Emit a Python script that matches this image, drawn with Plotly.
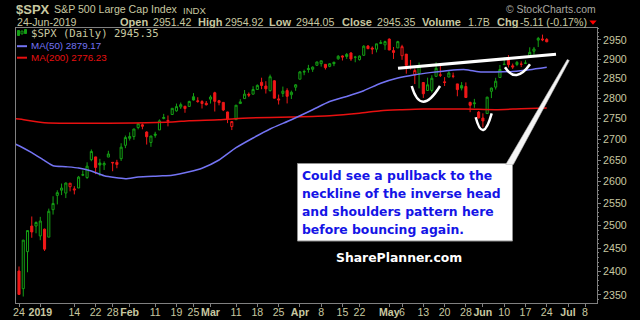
import math
import plotly.graph_objects as go

# ---------------- data ----------------
prior_date = "2018-12-21"
prior_close = 2416.62

dates = [
    "2018-12-24", "2018-12-26", "2018-12-27", "2018-12-28", "2018-12-31",
    "2019-01-02", "2019-01-03", "2019-01-04", "2019-01-07", "2019-01-08", "2019-01-09", "2019-01-10", "2019-01-11",
    "2019-01-14", "2019-01-15", "2019-01-16", "2019-01-17", "2019-01-18",
    "2019-01-22", "2019-01-23", "2019-01-24", "2019-01-25",
    "2019-01-28", "2019-01-29", "2019-01-30", "2019-01-31", "2019-02-01",
    "2019-02-04", "2019-02-05", "2019-02-06", "2019-02-07", "2019-02-08",
    "2019-02-11", "2019-02-12", "2019-02-13", "2019-02-14", "2019-02-15",
    "2019-02-19", "2019-02-20", "2019-02-21", "2019-02-22",
    "2019-02-25", "2019-02-26", "2019-02-27", "2019-02-28", "2019-03-01",
    "2019-03-04", "2019-03-05", "2019-03-06", "2019-03-07", "2019-03-08",
    "2019-03-11", "2019-03-12", "2019-03-13", "2019-03-14", "2019-03-15",
    "2019-03-18", "2019-03-19", "2019-03-20", "2019-03-21", "2019-03-22",
    "2019-03-25", "2019-03-26", "2019-03-27", "2019-03-28", "2019-03-29",
    "2019-04-01", "2019-04-02", "2019-04-03", "2019-04-04", "2019-04-05",
    "2019-04-08", "2019-04-09", "2019-04-10", "2019-04-11", "2019-04-12",
    "2019-04-15", "2019-04-16", "2019-04-17", "2019-04-18",
    "2019-04-22", "2019-04-23", "2019-04-24", "2019-04-25", "2019-04-26",
    "2019-04-29", "2019-04-30", "2019-05-01", "2019-05-02", "2019-05-03",
    "2019-05-06", "2019-05-07", "2019-05-08", "2019-05-09", "2019-05-10",
    "2019-05-13", "2019-05-14", "2019-05-15", "2019-05-16", "2019-05-17",
    "2019-05-20", "2019-05-21", "2019-05-22", "2019-05-23", "2019-05-24",
    "2019-05-28", "2019-05-29", "2019-05-30", "2019-05-31",
    "2019-06-03", "2019-06-04", "2019-06-05", "2019-06-06", "2019-06-07",
    "2019-06-10", "2019-06-11", "2019-06-12", "2019-06-13", "2019-06-14",
    "2019-06-17", "2019-06-18", "2019-06-19", "2019-06-20", "2019-06-21",
    "2019-06-24",
]

future_dates = ["2019-06-25", "2019-06-26", "2019-06-27", "2019-06-28",
                "2019-07-01", "2019-07-02", "2019-07-03", "2019-07-05", "2019-07-08"]

opens = [
    2400.56, 2363.12, 2442.50, 2498.77, 2498.94,
    2476.96, 2491.92, 2474.33, 2535.61, 2568.11, 2580.00, 2573.51, 2588.11,
    2580.31, 2585.10, 2614.75, 2609.28, 2651.27,
    2657.88, 2643.48, 2638.84, 2657.44,
    2644.97, 2644.89, 2653.62, 2685.49, 2702.32,
    2706.49, 2728.34, 2735.05, 2717.53, 2692.36,
    2712.40, 2722.61, 2750.30, 2743.50, 2760.24,
    2769.28, 2779.05, 2780.67, 2780.24,
    2804.35, 2792.36, 2787.50, 2788.11, 2798.22,
    2814.37, 2794.41, 2790.27, 2766.53, 2730.79,
    2747.61, 2787.34, 2799.78, 2810.38, 2810.79,
    2822.61, 2840.76, 2831.34, 2819.72, 2844.52,
    2796.01, 2812.66, 2819.72, 2809.40, 2828.27,
    2848.63, 2868.24, 2876.09, 2873.99, 2884.16,
    2888.46, 2886.58, 2881.37, 2891.92, 2900.86,
    2908.32, 2912.26, 2916.04, 2904.81,
    2898.78, 2909.99, 2934.00, 2928.99, 2925.81,
    2940.58, 2937.14, 2952.33, 2922.16, 2929.21,
    2908.89, 2913.03, 2879.61, 2859.84, 2863.10,
    2840.19, 2820.12, 2820.38, 2855.80, 2858.60,
    2841.94, 2854.02, 2856.06, 2836.70, 2832.41,
    2830.03, 2790.25, 2786.94, 2766.15,
    2751.53, 2762.64, 2818.09, 2828.51, 2852.87,
    2885.83, 2903.27, 2882.73, 2886.24, 2886.82,
    2889.75, 2906.71, 2920.55, 2949.60, 2952.71,
    2951.42,
]

highs = [
    2410.34, 2467.76, 2489.10, 2520.27, 2509.24,
    2519.49, 2493.14, 2538.07, 2566.16, 2579.82, 2595.32, 2597.82, 2596.27,
    2589.32, 2613.08, 2625.76, 2645.06, 2675.47,
    2657.88, 2653.19, 2647.20, 2672.38,
    2644.97, 2650.93, 2690.44, 2708.95, 2716.66,
    2724.99, 2738.98, 2738.08, 2719.32, 2708.07,
    2718.05, 2748.19, 2761.85, 2757.90, 2775.66,
    2787.33, 2789.88, 2781.58, 2794.20,
    2813.49, 2803.12, 2795.76, 2793.73, 2808.02,
    2816.88, 2796.44, 2790.27, 2767.25, 2744.13,
    2783.81, 2798.32, 2821.24, 2815.00, 2830.73,
    2835.41, 2852.42, 2843.54, 2860.31, 2846.16,
    2809.79, 2829.87, 2825.56, 2819.71, 2836.03,
    2869.40, 2872.90, 2885.25, 2881.28, 2893.24,
    2895.95, 2886.88, 2889.71, 2893.42, 2910.54,
    2909.60, 2916.06, 2918.00, 2908.40,
    2909.51, 2936.31, 2936.83, 2933.10, 2939.88,
    2949.52, 2948.22, 2954.13, 2931.68, 2947.85,
    2937.32, 2913.03, 2897.96, 2875.97, 2891.31,
    2840.19, 2852.54, 2858.68, 2892.15, 2885.48,
    2853.86, 2868.88, 2865.47, 2836.70, 2841.36,
    2840.51, 2792.03, 2799.00, 2768.98,
    2763.07, 2804.49, 2827.28, 2852.10, 2884.97,
    2904.77, 2910.61, 2888.57, 2895.24, 2894.45,
    2897.27, 2930.79, 2931.74, 2958.06, 2964.15,
    2954.92,
]

lows = [
    2351.10, 2346.58, 2397.94, 2472.89, 2482.82,
    2467.47, 2443.96, 2474.33, 2524.56, 2547.56, 2568.89, 2562.02, 2577.40,
    2570.41, 2585.10, 2612.68, 2606.36, 2647.58,
    2617.27, 2612.86, 2627.01, 2657.33,
    2624.06, 2631.05, 2648.34, 2678.65, 2696.88,
    2698.75, 2724.03, 2724.15, 2687.26, 2681.83,
    2703.79, 2722.61, 2748.63, 2731.23, 2760.24,
    2767.29, 2774.06, 2764.55, 2779.11,
    2794.99, 2789.47, 2775.13, 2782.51, 2787.38,
    2767.66, 2782.97, 2768.69, 2739.09, 2722.27,
    2747.61, 2786.73, 2799.78, 2803.46, 2810.79,
    2821.99, 2823.27, 2812.43, 2817.38, 2800.47,
    2785.02, 2803.99, 2787.72, 2798.77, 2819.23,
    2848.63, 2858.75, 2865.17, 2867.14, 2882.99,
    2880.78, 2873.33, 2879.13, 2881.99, 2898.37,
    2896.48, 2900.71, 2895.45, 2891.90,
    2896.35, 2908.53, 2926.05, 2912.84, 2917.56,
    2939.35, 2924.11, 2923.36, 2900.50, 2929.21,
    2898.21, 2862.60, 2873.28, 2836.40, 2825.39,
    2801.43, 2820.12, 2815.08, 2855.80, 2854.23,
    2831.29, 2854.02, 2851.11, 2805.49, 2820.19,
    2801.58, 2766.06, 2776.74, 2750.52,
    2728.81, 2762.64, 2800.92, 2822.45, 2852.87,
    2885.51, 2878.53, 2874.68, 2881.99, 2879.62,
    2887.30, 2905.44, 2911.43, 2931.50, 2946.87,
    2944.05,
]

closes = [
    2351.10, 2467.70, 2488.83, 2485.74, 2506.85,
    2510.03, 2447.89, 2531.94, 2549.69, 2574.41, 2584.96, 2596.64, 2596.26,
    2582.61, 2610.30, 2616.10, 2635.96, 2670.71,
    2632.90, 2638.70, 2642.33, 2664.76,
    2643.85, 2640.00, 2681.05, 2704.10, 2706.53,
    2724.87, 2737.70, 2731.61, 2706.05, 2707.88,
    2709.80, 2744.73, 2753.03, 2745.73, 2775.60,
    2779.76, 2784.70, 2774.88, 2792.67,
    2796.11, 2793.90, 2792.38, 2784.49, 2803.69,
    2792.81, 2789.65, 2771.45, 2748.93, 2743.07,
    2783.30, 2791.52, 2810.92, 2808.48, 2822.48,
    2832.94, 2832.57, 2824.23, 2854.88, 2800.71,
    2798.36, 2818.46, 2805.37, 2815.44, 2834.40,
    2867.19, 2867.24, 2873.40, 2879.39, 2892.74,
    2895.77, 2878.20, 2888.21, 2888.32, 2907.41,
    2905.58, 2907.06, 2900.45, 2905.03,
    2907.97, 2933.68, 2927.25, 2926.17, 2939.88,
    2943.03, 2945.83, 2923.73, 2917.52, 2945.64,
    2932.47, 2884.05, 2879.42, 2870.72, 2881.40,
    2811.87, 2834.41, 2850.96, 2876.32, 2859.53,
    2840.23, 2864.36, 2856.27, 2822.24, 2826.06,
    2802.39, 2783.02, 2788.86, 2752.06,
    2744.45, 2803.27, 2826.15, 2843.49, 2873.34,
    2886.73, 2885.72, 2879.84, 2891.64, 2886.98,
    2889.67, 2917.75, 2926.46, 2954.18, 2950.46,
    2945.35,
]

ma50_dates = ["2018-12-21", "2018-12-24", "2018-12-28", "2019-01-03", "2019-01-07", "2019-01-10",
              "2019-01-15", "2019-01-18", "2019-01-24", "2019-01-31", "2019-02-05", "2019-02-12",
              "2019-02-15", "2019-02-22", "2019-02-27", "2019-03-05", "2019-03-11", "2019-03-15",
              "2019-03-21", "2019-03-28", "2019-04-04", "2019-04-10", "2019-04-16", "2019-04-23",
              "2019-04-29", "2019-05-03", "2019-05-09", "2019-05-15", "2019-05-21", "2019-05-28",
              "2019-05-31", "2019-06-06", "2019-06-12", "2019-06-18", "2019-06-24"]
ma50_values = [2689.0, 2684.5, 2667.8, 2648.9, 2637.1, 2634.7,
               2631.7, 2624.6, 2613.7, 2606.7, 2610.6, 2613.0,
               2614.8, 2623.0, 2631.2, 2650.5, 2679.8, 2703.1,
               2724.9, 2747.5, 2772.1, 2792.5, 2805.2, 2819.5,
               2838.5, 2851.7, 2860.1, 2866.0, 2871.1, 2872.9,
               2867.7, 2867.0, 2868.5, 2872.9, 2879.17]

ma200_dates = ["2018-12-21", "2018-12-24", "2019-01-03", "2019-01-16", "2019-02-04", "2019-02-15",
               "2019-02-22", "2019-03-05", "2019-03-14", "2019-03-28", "2019-04-10", "2019-04-22",
               "2019-04-29", "2019-05-06", "2019-05-13", "2019-05-28", "2019-06-06", "2019-06-14",
               "2019-06-24"]
ma200_values = [2750.0, 2749.3, 2740.2, 2739.0, 2739.5, 2741.9,
                2745.1, 2747.5, 2751.7, 2754.2, 2757.4, 2763.5,
                2769.7, 2772.1, 2773.9, 2773.9, 2772.2, 2774.5,
                2776.23]

tick_dates = ["2018-12-24", "2019-01-02", "2019-01-14", "2019-01-22", "2019-01-28", "2019-02-01",
              "2019-02-11", "2019-02-19", "2019-02-25", "2019-03-01", "2019-03-11", "2019-03-18",
              "2019-03-25", "2019-04-01", "2019-04-08", "2019-04-15", "2019-04-22", "2019-05-01",
              "2019-05-06", "2019-05-13", "2019-05-20", "2019-05-28", "2019-06-03", "2019-06-10",
              "2019-06-17", "2019-06-24", "2019-07-01", "2019-07-08"]
tick_labels = ["24", "<b>2019</b>", "14", "22", "28", "<b>Feb</b>",
               "11", "19", "25", "<b>Mar</b>", "11", "18",
               "25", "<b>Apr</b>", "8", "15", "22", "<b>May</b>",
               "6", "13", "20", "28", "<b>Jun</b>", "10",
               "17", "24", "<b>Jul</b>", "8"]

y_ticks = [2350, 2400, 2450, 2500, 2550, 2600, 2650, 2700, 2750, 2800, 2850, 2900, 2950]
y_minor_ticks = list(range(2340, 2990, 10))

# ---------------- style ----------------
BG = "#000000"
TAN = "#c8c8a0"
GRID = "#808080"
GREEN = "#14a014"
RED = "#f01818"
BLUE = "#7474f4"
MARED = "#e81010"
SANS = "Liberation Sans, Arial, sans-serif"
VSANS = "DejaVu Sans, Verdana, sans-serif"
MONO = "DejaVu Sans Mono, Liberation Mono, monospace"

calendar = [prior_date] + dates + future_dates
pos = {d: i - 1 for i, d in enumerate(calendar)}

# split candles by close vs previous close
prev = [prior_close] + closes[:-1]
groups = {"up": ([], [], [], [], []), "dn": ([], [], [], [], [])}
for d, o, h, l, c, p in zip(dates, opens, highs, lows, closes, prev):
    g = groups["up" if c >= p else "dn"]
    g[0].append(pos[d]); g[1].append(o); g[2].append(h); g[3].append(l); g[4].append(c)

fig = go.Figure()
fig.add_trace(go.Scatter(x=[pos[d] for d in ma200_dates], y=ma200_values, mode="lines",
                         line=dict(color=MARED, width=1.5, shape="spline", smoothing=0.6),
                         hoverinfo="skip"))
fig.add_trace(go.Scatter(x=[pos[d] for d in ma50_dates], y=ma50_values, mode="lines",
                         line=dict(color=BLUE, width=1.5, shape="spline", smoothing=0.6),
                         hoverinfo="skip"))
for key, col in (("up", GREEN), ("dn", RED)):
    xs, o, h, l, c = groups[key]
    fig.add_trace(go.Candlestick(
        x=xs, open=o, high=h, low=l, close=c,
        increasing=dict(line=dict(color=col, width=1), fillcolor=BG),
        decreasing=dict(line=dict(color=col, width=1), fillcolor=col),
        whiskerwidth=0, showlegend=False))

# ---------------- layout helpers ----------------
L, R, T, B = 16, 597, 28, 303


def fx(px):
    return (px - L) / (R - L)


def fy(py):
    return (B - py) / (B - T)


annotations = []


def text(s, px, py, size, color, bold=False, anchor="left", family=SANS):
    annotations.append(dict(
        text=("<b>%s</b>" % s) if bold else s, x=fx(px), y=fy(py), xref="paper", yref="paper",
        xanchor=anchor, yanchor="middle", showarrow=False,
        font=dict(size=size, color=color, family=family), borderpad=0))


# header
text("$SPX", 15, 9, 13, TAN, bold=True)
text("S&P 500 Large Cap Index", 52.5, 9.5, 10.6, TAN)
text("INDX", 181.5, 10, 9.6, TAN)
text("© StockCharts.com", 597, 9.5, 10.4, "#a8a8a0", anchor="right")
row2 = [("24-Jun-2019", 15.5, False), ("Open", 119, True), ("2951.42", 151.5, False),
        ("High", 196.5, True), ("2954.92", 223.5, False), ("Low", 268, True),
        ("2944.05", 294.5, False), ("Close", 340.5, True), ("2945.35", 375.5, False),
        ("Volume", 421, True), ("1.7B", 467, False), ("Chg", 495.5, True),
        ("-5.11 (-0.17%)", 519, False)]
for s, px, b in row2:
    text(s, px, 22.5, 11 if b else 10.6, TAN, bold=b)

# legend
text("$SPX (Daily) 2945.35", 29.5, 33, 10.6, TAN, family=MONO)
text("MA(50) 2879.17", 29.5, 46, 9.8, BLUE)
text("MA(200) 2776.23", 29.5, 57.5, 9.8, MARED)

# callout text
box_lines = ["Could see a pullback to the", "neckline of the inverse head",
             "and shoulders pattern here", "before bouncing again."]
for i, s in enumerate(box_lines):
    text(s, 300.5, 175.5 + i * 18.1, 12.4, "#1414e6", bold=True, family=VSANS)
text("SharePlanner.com", 399, 257.5, 12.4, "#ffffff", bold=True, anchor="center", family=VSANS)

shapes = []


def path(pts, close=True, **kw):
    d = "M " + " L ".join("%.5f,%.5f" % (fx(a), fy(b)) for a, b in pts)
    if close:
        d += " Z"
    shapes.append(dict(type="path", path=d, xref="paper", yref="paper", **kw))


def qcurve(p0, c, p2, **kw):
    d = "M %.5f,%.5f Q %.5f,%.5f %.5f,%.5f" % (fx(p0[0]), fy(p0[1]), fx(c[0]), fy(c[1]), fx(p2[0]), fy(p2[1]))
    shapes.append(dict(type="path", path=d, xref="paper", yref="paper", **kw))


def line(p0, p1, **kw):
    shapes.append(dict(type="line", x0=fx(p0[0]), y0=fy(p0[1]), x1=fx(p1[0]), y1=fy(p1[1]),
                       xref="paper", yref="paper", **kw))


# red down triangle in header
path([(589.3, 20.6), (596.7, 20.6), (593, 24.8)], fillcolor="#ff0000", line=dict(width=0))

# legend icons
line((17, 46.2), (27, 46.2), line=dict(color=BLUE, width=2))
line((17, 57.7), (27, 57.7), line=dict(color=MARED, width=2))
for (x0, y0, y1, fill) in ((17.5, 30.5, 35.5, True), (21.0, 31.0, 34.0, False), (24.5, 29.5, 33.5, True)):
    shapes.append(dict(type="rect", x0=fx(x0), x1=fx(x0 + 2), y0=fy(y1), y1=fy(y0), xref="paper", yref="paper",
                       fillcolor=GREEN if fill else BG, line=dict(color=GREEN, width=1)))

# callout box and pointer
shapes.append(dict(type="rect", x0=fx(297.5), x1=fx(512.5), y0=fy(241), y1=fy(163.5), xref="paper", yref="paper",
                   fillcolor="#ffffff", line=dict(color="#909090", width=1)))
path([(567.3, 59.5), (569.3, 60.5), (513.3, 164.5), (505.8, 164.5)], fillcolor="#f4f4f4",
     line=dict(color="#c0c0c0", width=0.6))

# neckline and head & shoulders arcs
line((398, 68.3), (556, 54.3), line=dict(color="#ffffff", width=3))
arc_style = dict(line=dict(color="#ffffff", width=2.5))
qcurve((411.7, 86), (420.8, 117.4), (440, 86), **arc_style)
qcurve((475.7, 117.3), (482.9, 144.7), (491.7, 113.3), **arc_style)
qcurve((505, 67.3), (515.9, 84.2), (530, 64.3), **arc_style)

y_top, y_bot = 2981.7, 2333.1

fig.update_layout(
    width=640, height=320, autosize=False,
    margin=dict(l=L, r=640 - R, t=T, b=320 - B, pad=0, autoexpand=False),
    paper_bgcolor=BG, plot_bgcolor=BG,
    showlegend=False,
    annotations=annotations, shapes=shapes,
    xaxis=dict(
        range=[(L - 19) / 4.256, (R - 19) / 4.256],
        tickmode="array", tickvals=[pos[d] for d in tick_dates], ticktext=tick_labels,
        tickangle=0, automargin=False, ticklabelstandoff=-4,
        showgrid=False, zeroline=False, showline=True, linecolor=GRID, linewidth=1, mirror=True,
        ticks="outside", ticklen=3, tickcolor=GRID, tickwidth=1,
        tickfont=dict(size=10.6, color=TAN, family=SANS),
        rangeslider=dict(visible=False), fixedrange=True,
    ),
    yaxis=dict(
        type="log", range=[math.log10(y_bot), math.log10(y_top)], side="right",
        tickmode="array", tickvals=y_ticks, ticktext=[str(v) for v in y_ticks],
        automargin=False,
        showgrid=False, zeroline=False, showline=True, linecolor=GRID, linewidth=1, mirror=True,
        ticks="outside", ticklen=3, tickcolor=GRID, tickwidth=1,
        tickfont=dict(size=10.6, color=TAN, family=SANS),
        minor=dict(tickmode="array", tickvals=y_minor_ticks, ticks="outside", ticklen=1, tickcolor=GRID),
        fixedrange=True,
    ),
)

fig.write_html("out.html", config={"displayModeBar": False})
